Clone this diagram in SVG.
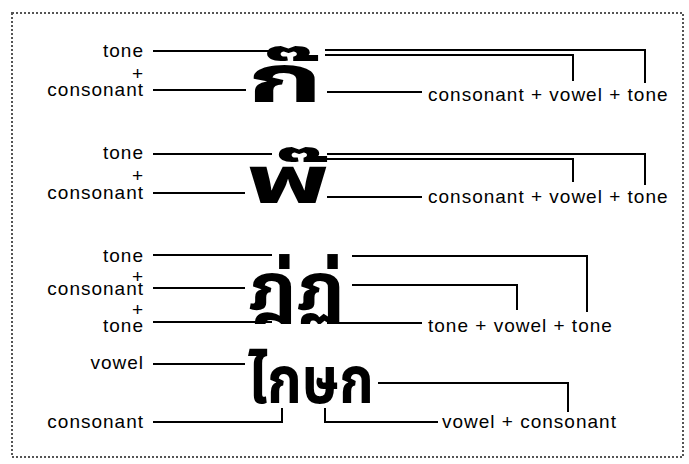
<svg xmlns="http://www.w3.org/2000/svg" width="689" height="464" viewBox="0 0 689 464">
<style>
.lbl{font-family:"Liberation Sans",Arial,sans-serif;font-size:19px;letter-spacing:1px;fill:#000}
.end{text-anchor:end}
.th{font-family:"Noto Sans Thai","Noto Serif Thai","Garuda","Loma","Tlwg Typo","Norasi","FreeSerif","DejaVu Sans",sans-serif;font-weight:bold;fill:#000}
.ln{fill:none;stroke:#000;stroke-width:2}
.frame{fill:none;stroke:#555;stroke-width:2;stroke-dasharray:2 2}
</style>
<rect class="frame" x="12" y="13" width="671" height="444"/>
<g id="row1">
<text class="lbl end" x="144" y="57">tone</text>
<text class="lbl end" x="144" y="80">+</text>
<text class="lbl end" x="144" y="96">consonant</text>
<text class="th" font-size="66" transform="translate(247,102) scale(1.85,1)">ก๊</text>
<text class="lbl" x="428" y="101">consonant + vowel + tone</text>
</g>
<g id="row2">
<text class="lbl end" x="144" y="159">tone</text>
<text class="lbl end" x="144" y="182">+</text>
<text class="lbl end" x="144" y="199">consonant</text>
<text class="th" font-size="66" transform="translate(246,203) scale(1.75,1)">พ๊</text>
<text class="lbl" x="428" y="203">consonant + vowel + tone</text>
</g>
<g id="row3">
<text class="lbl end" x="144" y="262">tone</text>
<text class="lbl end" x="144" y="283">+</text>
<text class="lbl end" x="144" y="295">consonant</text>
<text class="lbl end" x="144" y="316">+</text>
<text class="lbl end" x="144" y="332">tone</text>
<text class="th" font-size="66" transform="translate(248,310) scale(1.15,1)">ฎ่ฏ่</text>
<text class="lbl" x="428" y="332">tone + vowel + tone</text>
</g>
<g id="row4">
<text class="lbl end" x="144" y="369">vowel</text>
<text class="lbl end" x="144" y="428">consonant</text>
<text class="th" font-size="66" transform="translate(248,403) scale(0.84,1)">ไกษก</text>
<text class="lbl" x="442" y="428">vowel + consonant</text>
</g>
<g id="connectors">
<path class="ln" d="M153 51H272M153 90H246M325 50H645V83M325 55H573V81M327 92H422"/>
<path class="ln" d="M153 154H272M153 193H245M327 154H645V185M327 159H573V182M327 197H422"/>
<path class="ln" d="M153 255H272M153 288H245M153 322H272M352 256H587V312M352 285H517V310M327 323H422"/>
<path class="ln" d="M153 364H245M153 422H282V408M325 408V422H438M378 383H568V412"/>
</g>
</svg>
